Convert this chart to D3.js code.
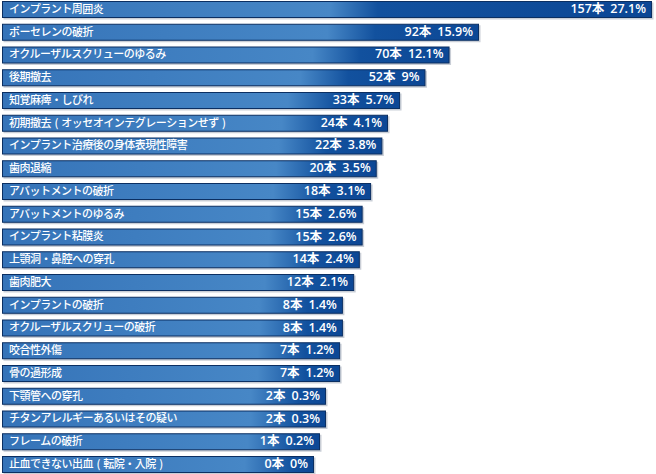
<!DOCTYPE html>
<html><head><meta charset="utf-8">
<script src="https://cdn.jsdelivr.net/npm/d3@7"></script>
<style>
html,body{margin:0;padding:0;background:#fff;}
svg{display:block;}
</style></head>
<body>
<script>
const categories = [
  "インプラント周囲炎",
  "ポーセレンの破折",
  "オクルーザルスクリューのゆるみ",
  "後期撤去",
  "知覚麻痺・しびれ",
  "初期撤去 ( オッセオインテグレーションせず )",
  "インプラント治療後の身体表現性障害",
  "歯肉退縮",
  "アバットメントの破折",
  "アバットメントのゆるみ",
  "インプラント粘膜炎",
  "上顎洞・鼻腔への穿孔",
  "歯肉肥大",
  "インプラントの破折",
  "オクルーザルスクリューの破折",
  "咬合性外傷",
  "骨の過形成",
  "下顎管への穿孔",
  "チタンアレルギーあるいはその疑い",
  "フレームの破折",
  "止血できない出血 ( 転院・入院 )"
];
const counts = [157, 92, 70, 52, 33, 24, 22, 20, 18, 15, 15, 14, 12, 8, 8, 7, 7, 2, 2, 1, 0];
const percents = ["27.1%", "15.9%", "12.1%", "9%", "5.7%", "4.1%", "3.8%", "3.5%", "3.1%", "2.6%", "2.6%", "2.4%", "2.1%", "1.4%", "1.4%", "1.2%", "1.2%", "0.3%", "0.3%", "0.2%", "0%"];
const unit = "本";
const scaleStops = [0, 2, 24, 92, 157];

const W = 656, H = 474;
const data = categories.map((c, i) => ({c, v: counts[i], p: percents[i], i}));

const svg = d3.select("body").append("svg").attr("width", W).attr("height", H);

const x = d3.scaleLinear().domain(scaleStops).range([314, 326, 388, 479, 652]);
const y = d3.scaleBand().domain(categories).range([1, 473]).paddingInner(0.253).paddingOuter(0);
const x0 = 2;

const defs = svg.append("defs");
data.forEach(d => {
  const end = x(d.v);
  const w = end - x0;
  const s = Math.min(330, 245 + 0.5 * (end - 314));
  const g = defs.append("linearGradient").attr("id", "g" + d.i)
    .attr("x1", 0).attr("x2", 1).attr("y1", 0).attr("y2", 0);
  g.append("stop").attr("offset", 0).attr("stop-color", "#3573b8");
  g.append("stop").attr("offset", (s - x0) / w).attr("stop-color", "#4787c6");
  g.append("stop").attr("offset", Math.min(1, (s + 48 - x0) / w)).attr("stop-color", "#12519e");
  g.append("stop").attr("offset", 1).attr("stop-color", "#0c4795");
});

const rows = svg.selectAll("g.row").data(data).join("g").attr("class", "row");

rows.append("rect")
  .attr("x", x0 + 1.5).attr("y", d => y(d.c) + 1.5)
  .attr("width", d => x(d.v) - x0).attr("height", y.bandwidth())
  .attr("fill", "#c9ced6");

rows.append("rect")
  .attr("x", x0 + 0.5).attr("y", d => y(d.c) + 0.5)
  .attr("width", d => x(d.v) - x0 - 1).attr("height", y.bandwidth() - 1)
  .attr("fill", d => `url(#g${d.i})`)
  .attr("stroke", "#0b2f62").attr("stroke-width", 1);

rows.append("text")
  .attr("x", 9).attr("y", d => y(d.c) + y.bandwidth() / 2 + 0.5)
  .attr("dominant-baseline", "middle")
  .attr("fill", "#fff")
  .attr("font-family", "'Noto Sans CJK JP', sans-serif")
  .attr("font-weight", 500)
  .attr("font-size", "11px")
  .attr("letter-spacing", "-0.5px")
  .attr("word-spacing", "1.5px")
  .text(d => d.c);

const vt = rows.append("text")
  .attr("x", d => x(d.v) - 6).attr("y", d => y(d.c) + y.bandwidth() / 2 + 0.5)
  .attr("dominant-baseline", "middle")
  .attr("text-anchor", "end")
  .attr("fill", "#fff")
  .attr("font-family", "'Open Sans', 'Noto Sans CJK JP', sans-serif")
  .attr("font-weight", 600)
  .attr("font-size", "12.5px");
vt.append("tspan").text(d => `${d.v}${unit}`);
vt.append("tspan").attr("dx", 6).text(d => d.p);
</script>
</body></html>
